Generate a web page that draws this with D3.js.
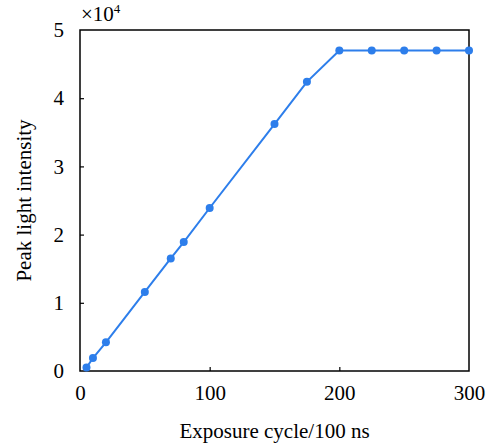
<!DOCTYPE html>
<html>
<head>
<meta charset="utf-8">
<script src="https://cdn.jsdelivr.net/npm/d3@7"></script>
<style>
  body { margin: 0; background: #fff; }
  text { font-family: "Liberation Serif", "Times New Roman", serif; fill: #000; }
</style>
</head>
<body>
<svg id="chart" width="493" height="445"></svg>
<script>
const cycles = [5, 10, 20, 50, 70, 80, 100, 150, 175, 200, 225, 250, 275, 300];
const intensity = [0.05, 0.19, 0.42, 1.16, 1.65, 1.89, 2.39, 3.62, 4.24, 4.70, 4.70, 4.70, 4.70, 4.70];
const xTicks = [0, 100, 200, 300];
const yTicks = [0, 1, 2, 3, 4, 5];

const svg = d3.select('#chart');
const margin = { left: 80, right: 24, top: 30, bottom: 74 };
const width = 493, height = 445;

const x = d3.scaleLinear([0, 300], [margin.left, width - margin.right]);
const y = d3.scaleLinear([0, 5], [height - margin.bottom, margin.top]);

const color = '#2d7eeb';

// frame
svg.append('rect')
  .attr('x', x(0)).attr('y', y(5))
  .attr('width', x(300) - x(0)).attr('height', y(0) - y(5))
  .attr('fill', 'none').attr('stroke', '#000').attr('stroke-width', 1.5);

const xAxis = svg.append('g')
  .attr('transform', `translate(0,${y(0)})`)
  .call(d3.axisBottom(x).tickValues(xTicks).tickFormat(d3.format('d'))
    .tickSizeInner(-4).tickSizeOuter(0).tickPadding(14));
const yAxis = svg.append('g')
  .attr('transform', `translate(${x(0)},0)`)
  .call(d3.axisLeft(y).tickValues(yTicks).tickFormat(d3.format('d'))
    .tickSizeInner(-4).tickSizeOuter(0).tickPadding(16));

[xAxis, yAxis].forEach((g) => {
  g.select('.domain').remove();
  g.selectAll('line').attr('stroke', '#000').attr('stroke-width', 1.2);
  g.selectAll('text').style('font-size', '21px');
});
yAxis.selectAll('.tick')
  .filter((d) => d === 0 || d === 5)
  .select('line').remove();
xAxis.selectAll('.tick')
  .filter((d) => d === 0 || d === 300)
  .select('line').remove();

const pts = cycles.map((c, i) => ({ c, v: intensity[i] }));

svg.append('path')
  .datum(pts)
  .attr('fill', 'none')
  .attr('stroke', color)
  .attr('stroke-width', 2)
  .attr('d', d3.line().x((d) => x(d.c)).y((d) => y(d.v)));

svg.selectAll('circle.pt')
  .data(pts)
  .join('circle')
  .attr('class', 'pt')
  .attr('cx', (d) => x(d.c))
  .attr('cy', (d) => y(d.v))
  .attr('r', 4)
  .attr('fill', color);

// exponent label
const exp = svg.append('text')
  .attr('x', x(0) + 1)
  .attr('y', 21)
  .style('font-size', '21px');
exp.append('tspan').text('×10');
exp.append('tspan').attr('dy', -8).style('font-size', '13px').text('4');

svg.append('text')
  .attr('x', (x(0) + x(300)) / 2)
  .attr('y', 438)
  .attr('text-anchor', 'middle')
  .style('font-size', '21px')
  .text('Exposure cycle/100 ns');

svg.append('text')
  .attr('transform', `translate(31,${(y(0) + y(5)) / 2}) rotate(-90)`)
  .attr('text-anchor', 'middle')
  .style('font-size', '21px')
  .text('Peak light intensity');
</script>
</body>
</html>
